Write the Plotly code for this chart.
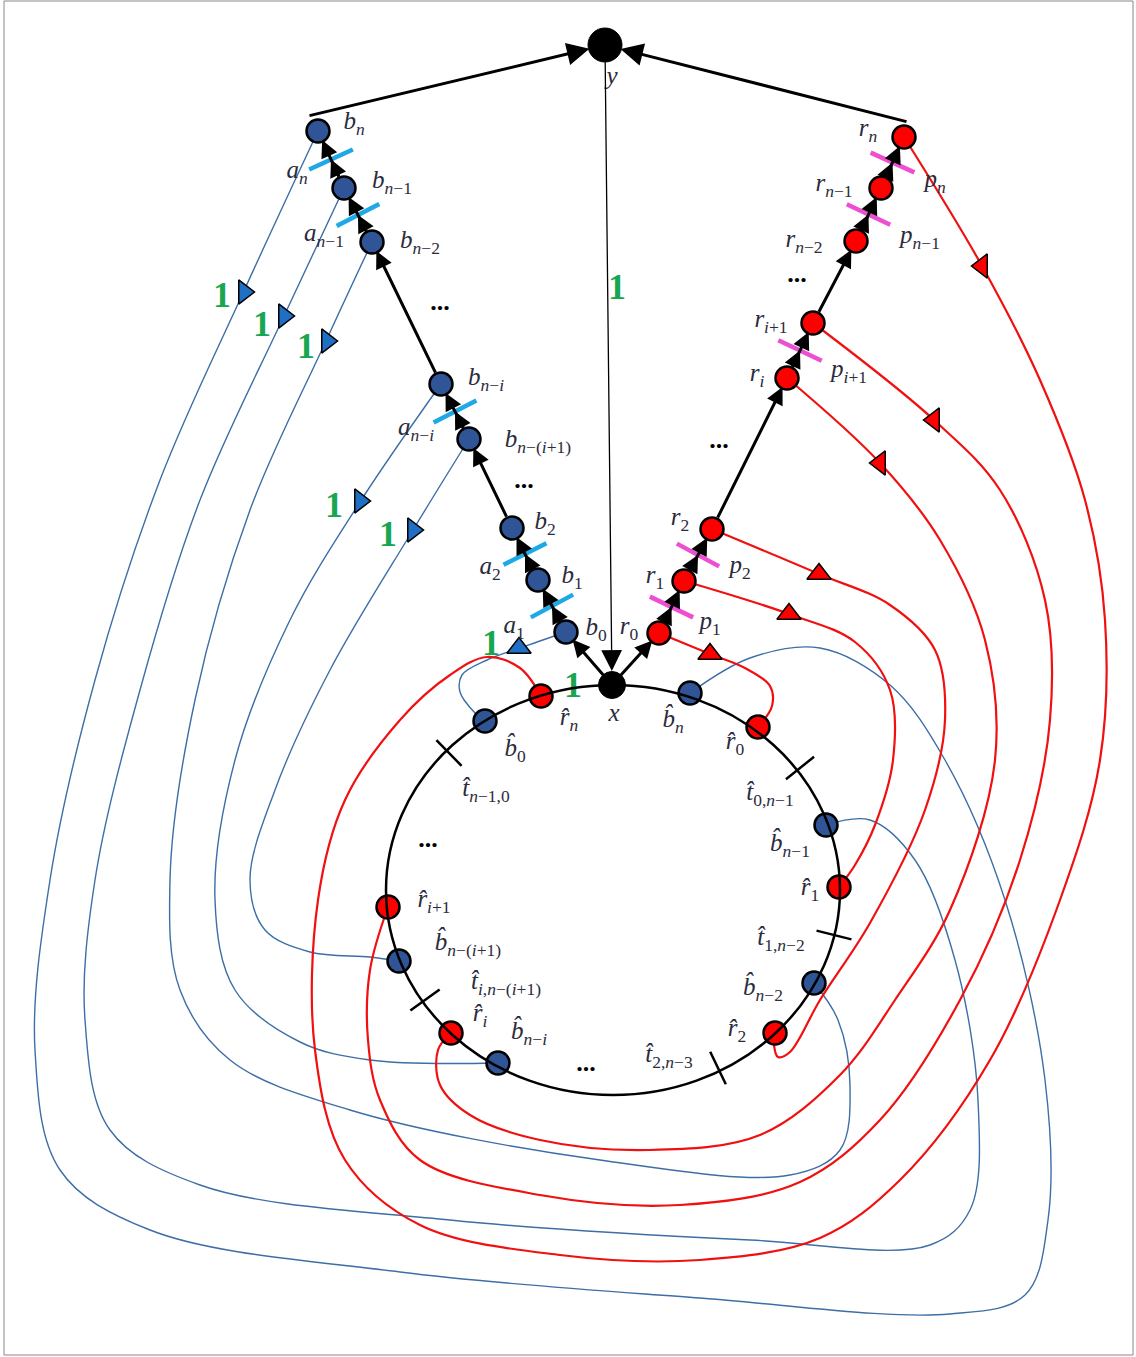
import math
import plotly.graph_objects as go

W, H = 1136, 1357

# ---------------- data (pixel coordinates of the diagram) ----------------
y_node = (605, 45)
x_node = (612, 685)

left_x = [318, 344, 372, 441, 469, 512, 538, 566]
left_y = [131, 188, 242, 384, 439, 528, 580, 632]
left_labels = ["<i>b</i><sub><i>n</i></sub>", "<i>b</i><sub><i>n</i>−1</sub>", "<i>b</i><sub><i>n</i>−2</sub>",
               "<i>b</i><sub><i>n</i>−<i>i</i></sub>", "<i>b</i><sub><i>n</i>−(<i>i</i>+1)</sub>",
               "<i>b</i><sub>2</sub>", "<i>b</i><sub>1</sub>", "<i>b</i><sub>0</sub>"]
left_lx = [354, 392, 420, 486, 538, 545, 572, 596]
left_ly = [123, 182, 242, 379, 441, 523, 577, 629]

right_x = [904, 881, 856, 813, 787, 712, 684, 659]
right_y = [137, 188, 241, 323, 378, 529, 581, 633]
right_labels = ["<i>r</i><sub><i>n</i></sub>", "<i>r</i><sub><i>n</i>−1</sub>", "<i>r</i><sub><i>n</i>−2</sub>",
                "<i>r</i><sub><i>i</i>+1</sub>", "<i>r</i><sub><i>i</i></sub>",
                "<i>r</i><sub>2</sub>", "<i>r</i><sub>1</sub>", "<i>r</i><sub>0</sub>"]
right_lx = [868, 834, 804, 771, 757, 680, 655, 629]
right_ly = [130, 185, 241, 321, 375, 519, 577, 628]

cut_after = [0, 1, 3, 5, 6]          # a cut between chain node k and k+1
a_labels = ["<i>a</i><sub><i>n</i></sub>", "<i>a</i><sub><i>n</i>−1</sub>", "<i>a</i><sub><i>n</i>−<i>i</i></sub>",
            "<i>a</i><sub>2</sub>", "<i>a</i><sub>1</sub>"]
a_lx = [297, 324, 416, 490, 514]
a_ly = [172, 235, 429, 568, 627]
p_labels = ["<i>p</i><sub><i>n</i></sub>", "<i>p</i><sub><i>n</i>−1</sub>", "<i>p</i><sub><i>i</i>+1</sub>",
            "<i>p</i><sub>2</sub>", "<i>p</i><sub>1</sub>"]
p_lx = [935, 920, 849, 740, 710]
p_ly = [181, 237, 371, 567, 623]

ring_cx, ring_cy, ring_rx, ring_ry = 613, 890, 227, 205

ring_blue_x = [485, 690, 826, 814, 399, 498]
ring_blue_y = [721, 693, 825, 983, 961, 1063]
ring_red_x = [541, 758, 839, 775, 388, 451]
ring_red_y = [696, 727, 887, 1033, 907, 1033]
ring_tick_x = [449, 800, 834, 718, 425]
ring_tick_y = [753, 768, 935, 1068, 1000]

H_ = "\u0302"
ring_labels = [f"<i>r{H_}</i><sub><i>n</i></sub>", f"<i>b{H_}</i><sub>0</sub>", f"<i>t{H_}</i><sub><i>n</i>−1,0</sub>",
               f"<i>b{H_}</i><sub><i>n</i></sub>", f"<i>r{H_}</i><sub>0</sub>", f"<i>t{H_}</i><sub>0,<i>n</i>−1</sub>",
               f"<i>b{H_}</i><sub><i>n</i>−1</sub>", f"<i>r{H_}</i><sub>1</sub>", f"<i>t{H_}</i><sub>1,<i>n</i>−2</sub>",
               f"<i>b{H_}</i><sub><i>n</i>−2</sub>", f"<i>r{H_}</i><sub>2</sub>", f"<i>t{H_}</i><sub>2,<i>n</i>−3</sub>",
               f"<i>r{H_}</i><sub><i>i</i>+1</sub>", f"<i>b{H_}</i><sub><i>n</i>−(<i>i</i>+1)</sub>",
               f"<i>t{H_}</i><sub><i>i</i>,<i>n</i>−(<i>i</i>+1)</sub>", f"<i>r{H_}</i><sub><i>i</i></sub>",
               f"<i>b{H_}</i><sub><i>n</i>−<i>i</i></sub>"]
ring_lx = [569, 515, 486, 673, 735, 770, 790, 810, 781, 763, 737, 669, 434, 468, 506, 480, 529]
ring_ly = [719, 750, 790, 721, 743, 794, 845, 889, 939, 989, 1030, 1056, 901, 944, 983, 1015, 1033]

ones_x = [222, 262, 306, 334, 388, 491, 573, 617]
ones_y = [298, 327, 349, 508, 537, 646, 688, 290]

blue_tri_x = [244, 284, 327, 360, 413]
blue_tri_y = [292, 316, 341, 501, 530]
blue_up_x, blue_up_y = [519], [648]

red_tri_x = [982, 934, 880, 819, 789, 710]
red_tri_y = [266, 420, 463, 574, 614, 654]
red_tri_sym = ["triangle-left", "triangle-left", "triangle-left", "triangle-up", "triangle-up", "triangle-up"]

dots_x = [440, 524, 797, 719, 428, 586]
dots_y = [303, 481, 275, 441, 840, 1064]

# connecting curves (waypoints)
curve_b_n = [(318, 131), (243, 293), (160, 480), (95, 680), (50, 880), (35, 1050), (60, 1170), (150, 1230),
             (400, 1272), (700, 1298), (950, 1314), (1025, 1295), (1048, 1220), (1045, 1080), (1005, 900),
             (945, 760), (890, 685), (820, 648), (750, 658), (690, 693)]
curve_b_n1 = [(344, 188), (284, 316), (200, 500), (140, 690), (95, 880), (85, 1020), (110, 1130), (200, 1185),
              (450, 1220), (750, 1240), (930, 1245), (970, 1210), (978, 1100), (955, 960), (915, 860),
              (870, 820), (826, 825)]
curve_b_n2 = [(372, 242), (326, 341), (250, 510), (195, 700), (170, 880), (180, 990), (230, 1060), (350, 1110),
              (600, 1160), (790, 1175), (840, 1150), (850, 1085), (838, 1020), (814, 983)]
curve_b_ni = [(441, 384), (360, 502), (290, 620), (235, 760), (215, 900), (235, 990), (300, 1042), (370, 1060),
              (498, 1063)]
curve_b_ni1 = [(469, 439), (413, 530), (330, 670), (275, 790), (250, 880), (265, 930), (310, 952), (370, 957),
               (399, 961)]
curve_b_0 = [(566, 632), (520, 648), (487, 660), (462, 675), (460, 692), (475, 713), (485, 721)]

curve_r_n = [(904, 137), (982, 266), (1040, 380), (1085, 500), (1105, 620), (1100, 760), (1060, 900),
             (990, 1060), (900, 1180), (820, 1238), (700, 1260), (560, 1255), (420, 1225), (345, 1160),
             (315, 1050), (318, 900), (345, 800), (400, 720), (450, 675), (487, 657), (520, 668), (541, 696)]
curve_r_i1 = [(813, 323), (934, 420), (1000, 490), (1045, 600), (1050, 720), (1020, 860), (960, 1000),
              (880, 1120), (800, 1182), (680, 1205), (540, 1195), (420, 1160), (380, 1100), (368, 1040),
              (370, 970), (388, 907)]
curve_r_i = [(787, 378), (880, 463), (940, 540), (985, 640), (995, 760), (950, 910), (895, 1000), (840, 1075),
             (760, 1135), (650, 1150), (540, 1140), (470, 1115), (440, 1085), (438, 1050), (451, 1033)]
curve_r_2 = [(712, 529), (819, 574), (890, 605), (935, 650), (945, 720), (925, 810), (870, 923), (820, 1000),
             (790, 1052), (778, 1057), (774, 1045), (775, 1033)]
curve_r_1 = [(684, 581), (789, 614), (855, 642), (890, 690), (893, 760), (875, 825), (855, 865), (839, 887)]
curve_r_0 = [(659, 633), (710, 654), (745, 668), (770, 686), (772, 706), (758, 727)]

blue_curves = [curve_b_n, curve_b_n1, curve_b_n2, curve_b_ni, curve_b_ni1, curve_b_0]
red_curves = [curve_r_n, curve_r_i1, curve_r_i, curve_r_2, curve_r_1, curve_r_0]

# ---------------- styles ----------------
BLUE_NODE = "#2f5597"
RED_NODE = "#ff0000"
BLUE_LINE = "#3d6ea6"
RED_LINE = "#f01010"
CYAN = "#1ea8e6"
MAGENTA = "#ee4fd0"
GREEN = "#19a653"
TXT = "#2b2b3b"
SERIF = "Liberation Serif, DejaVu Serif, serif"

fig = go.Figure()

for c in blue_curves:
    fig.add_trace(go.Scatter(x=[p[0] for p in c], y=[p[1] for p in c], mode="lines",
                             line=dict(color=BLUE_LINE, width=1.4, shape="spline", smoothing=1.0),
                             hoverinfo="skip"))
for c in red_curves:
    fig.add_trace(go.Scatter(x=[p[0] for p in c], y=[p[1] for p in c], mode="lines",
                             line=dict(color=RED_LINE, width=2.2, shape="spline", smoothing=1.0),
                             hoverinfo="skip"))

shapes = []
# outer frame
shapes.append(dict(type="rect", xref="x", yref="y", x0=4, y0=1, x1=1133, y1=1355,
                   line=dict(color="#888888", width=1)))
# ring
shapes.append(dict(type="circle", xref="x", yref="y", x0=ring_cx - ring_rx, x1=ring_cx + ring_rx,
                   y0=ring_cy - ring_ry, y1=ring_cy + ring_ry, line=dict(color="black", width=2.5)))
# ring ticks (along the ellipse normal)
for tx, ty in zip(ring_tick_x, ring_tick_y):
    nx, ny = (tx - ring_cx) / ring_rx ** 2, (ty - ring_cy) / ring_ry ** 2
    L = math.hypot(nx, ny)
    nx, ny = nx / L * 18, ny / L * 18
    shapes.append(dict(type="line", xref="x", yref="y", x0=tx - nx, y0=ty - ny, x1=tx + nx, y1=ty + ny,
                       line=dict(color="black", width=2.5)))


# cut lines across chain edges
def cuts(xs, ys, color):
    for k in cut_after:
        mx, my = (xs[k] + xs[k + 1]) / 2, (ys[k] + ys[k + 1]) / 2
        dx, dy = xs[k + 1] - xs[k], ys[k + 1] - ys[k]
        L = math.hypot(dx, dy)
        px, py = -dy / L * 24, dx / L * 24
        shapes.append(dict(type="line", xref="x", yref="y", x0=mx - px, y0=my - py, x1=mx + px, y1=my + py,
                           line=dict(color=color, width=4.5)))


cuts(left_x, left_y, CYAN)
cuts(right_x, right_y, MAGENTA)

annotations = []


def arrow(x0, y0, x1, y1, width, size, standoff=0, startstandoff=0):
    annotations.append(dict(x=x1, y=y1, ax=x0, ay=y0, xref="x", yref="y", axref="x", ayref="y",
                            showarrow=True, arrowhead=2, arrowsize=size, arrowwidth=width,
                            arrowcolor="black", standoff=standoff, startstandoff=startstandoff, text=""))


# y edges
arrow(308, 116, y_node[0], y_node[1], 3, 1.5, standoff=16)
arrow(908, 122, y_node[0], y_node[1], 3, 1.5, standoff=16)
arrow(y_node[0], y_node[1], x_node[0], x_node[1], 1.3, 3.2, standoff=14, startstandoff=10)
# chains
for xs, ys in ((left_x, left_y), (right_x, right_y)):
    arrow(x_node[0], x_node[1], xs[-1], ys[-1], 3, 1.15, standoff=10, startstandoff=10)
    for i in range(len(xs) - 1):
        up, lo = i, i + 1
        arrow(xs[lo], ys[lo], xs[up], ys[up], 3, 1.15, standoff=10, startstandoff=11)
        if i in cut_after:
            mx, my = (xs[up] + xs[lo]) / 2, (ys[up] + ys[lo]) / 2
            arrow(xs[lo], ys[lo], mx, my, 3, 1.15, startstandoff=11)

# triangles on connector curves
fig.add_trace(go.Scatter(x=blue_tri_x, y=blue_tri_y, mode="markers", hoverinfo="skip",
                         marker=dict(symbol="triangle-right", size=21, color="#1f6fc4",
                                     line=dict(color="black", width=1.5))))
fig.add_trace(go.Scatter(x=blue_up_x, y=blue_up_y, mode="markers", hoverinfo="skip",
                         marker=dict(symbol="triangle-up", size=21, color="#1f6fc4",
                                     line=dict(color="black", width=1.5))))
fig.add_trace(go.Scatter(x=red_tri_x, y=red_tri_y, mode="markers", hoverinfo="skip",
                         marker=dict(symbol=red_tri_sym, size=21, color=RED_NODE,
                                     line=dict(color="black", width=1.5))))

# nodes
fig.add_trace(go.Scatter(x=left_x + ring_blue_x, y=left_y + ring_blue_y, mode="markers", hoverinfo="skip",
                         marker=dict(size=23, color=BLUE_NODE, opacity=1, line=dict(color="black", width=2.5))))
fig.add_trace(go.Scatter(x=right_x + ring_red_x, y=right_y + ring_red_y, mode="markers", hoverinfo="skip",
                         marker=dict(size=23, color=RED_NODE, opacity=1, line=dict(color="black", width=2.5))))
fig.add_trace(go.Scatter(x=[y_node[0], x_node[0]], y=[y_node[1], x_node[1]], mode="markers", hoverinfo="skip",
                         opacity=1,
                         marker=dict(size=[34, 27], color="#000000", opacity=1,
                                     line=dict(color="#000000", width=1))))

# labels
lab_text = left_labels + right_labels + a_labels + p_labels + ring_labels + ["<i>y</i>", "<i>x</i>"]
lab_x = left_lx + right_lx + a_lx + p_lx + ring_lx + [612, 614]
lab_y = left_ly + right_ly + a_ly + p_ly + ring_ly + [78, 715]
fig.add_trace(go.Scatter(x=lab_x, y=lab_y, mode="text", text=lab_text, hoverinfo="skip",
                         textfont=dict(family=SERIF, size=25, color=TXT)))
fig.add_trace(go.Scatter(x=ones_x, y=ones_y, mode="text", text=["<b>1</b>"] * len(ones_x), hoverinfo="skip",
                         textfont=dict(family=SERIF, size=36, color=GREEN)))
fig.add_trace(go.Scatter(x=dots_x, y=dots_y, mode="text", text=["<b>...</b>"] * len(dots_x), hoverinfo="skip",
                         textfont=dict(family=SERIF, size=26, color="black")))

fig.update_layout(width=W, height=H, autosize=False, margin=dict(l=0, r=0, t=0, b=0),
                  paper_bgcolor="white", plot_bgcolor="white", showlegend=False,
                  xaxis=dict(range=[0, W], visible=False, fixedrange=True),
                  yaxis=dict(range=[H, 0], visible=False, fixedrange=True),
                  shapes=shapes, annotations=annotations)

fig.write_html("out.html", config={"displayModeBar": False},
               post_script="document.body.style.margin='0';")
